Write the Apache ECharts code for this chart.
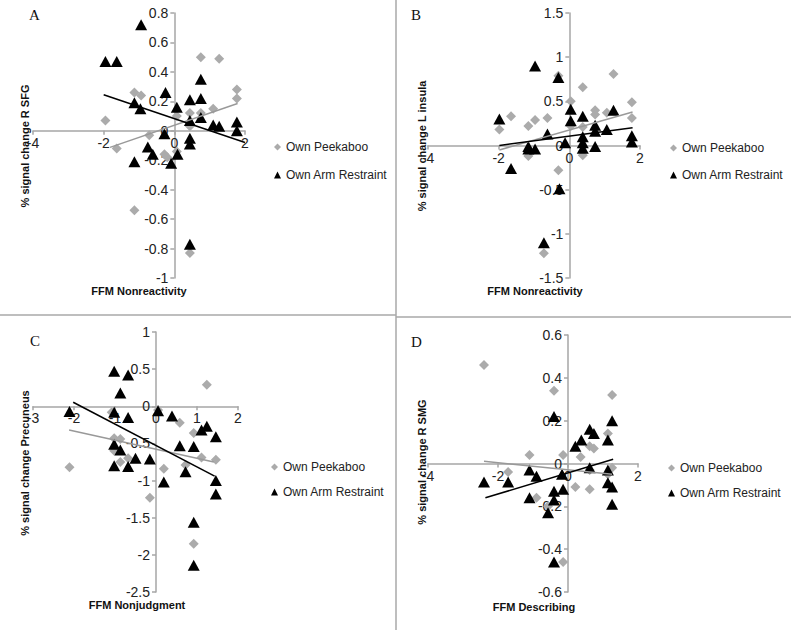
<!DOCTYPE html>
<html>
<head>
<meta charset="utf-8">
<script src="https://cdn.jsdelivr.net/npm/echarts@6/dist/echarts.min.js"></script>
<style>
html,body{margin:0;padding:0;background:#fff;}
#chart{width:791px;height:630px;}
</style>
</head>
<body>
<div id="chart"></div>
<script>
// ---------- DATA ----------
const seriesNames = ['Own Peekaboo', 'Own Arm Restraint'];

// Panel A: FFM Nonreactivity vs % signal change R SFG
const peekA = [[-1.95,0.07],[-1.63,-0.12],[-1.13,0.26],[-0.94,0.24],[-0.71,-0.03],[-0.28,-0.16],[-1.13,-0.54],[0.75,0.5],[1.27,0.49],[1.77,0.28],[1.77,0.22],[0.44,0.12],[0.75,0.12],[1.1,0.15],[0.07,0.1],[0.44,0.03],[0.44,-0.83],[-0.2,-0.18],[0.07,-0.14]];
const armA = [[-0.94,0.72],[-1.95,0.47],[-1.63,0.47],[-1.13,0.19],[-0.96,0.15],[-0.25,0.26],[-0.28,-0.02],[-0.75,-0.11],[-0.61,-0.16],[-1.13,-0.21],[-0.09,-0.22],[0.09,-0.16],[0.07,0.16],[0.44,0.21],[0.75,0.22],[0.75,0.35],[0.75,0.09],[0.44,0.07],[0.44,-0.05],[0.44,-0.09],[1.1,0.04],[1.27,0.03],[1.77,0.06],[1.77,0.0],[0.44,-0.77]];
const trendPeekA = [[-1.82,-0.113],[1.79,0.185]];
const trendArmA = [[-2.0,0.245],[2.0,-0.08]];

// Panel B: FFM Nonreactivity vs % signal change L insula
const peekB = [[-1.98,0.18],[-1.65,0.33],[-1.16,0.22],[-0.97,0.29],[-0.62,0.31],[-1.16,-0.12],[-0.31,0.79],[0.04,0.5],[0.38,0.66],[0.73,0.4],[0.73,0.35],[1.06,0.37],[1.25,0.81],[1.77,0.49],[1.77,0.31],[-0.31,-0.28],[-0.72,-1.22],[0.38,0.21],[0.38,-0.11],[0.04,0.22]];
const armB = [[-0.97,0.9],[-0.31,0.77],[-1.98,0.3],[-1.65,-0.26],[-1.16,-0.04],[-0.97,-0.04],[-0.62,0.13],[-0.12,0.03],[0.04,0.41],[0.04,0.28],[0.38,0.33],[0.38,0.1],[0.38,0.03],[0.38,-0.03],[0.73,0.23],[0.73,0.16],[0.73,-0.01],[1.06,0.18],[1.25,0.4],[1.77,0.11],[1.77,0.04],[-0.28,-0.49],[-0.72,-1.1],[-1.16,-0.01]];
const trendPeekB = [[-1.98,-0.05],[1.79,0.38]];
const trendArmB = [[-1.98,0.0],[1.79,0.2]];

// Panel C: FFM Nonjudgment vs % signal change Precuneus
const peekC = [[-2.11,-0.82],[-1.08,-0.08],[-1.02,-0.43],[-0.87,-0.44],[-0.87,-0.75],[-0.68,-0.7],[-1.02,-0.6],[-0.15,-1.23],[0.19,-0.84],[0.58,-0.22],[0.92,-0.36],[1.24,0.29],[1.11,-0.69],[1.46,-0.72],[0.72,-0.79],[0.92,-1.85],[0.05,-0.05]];
const armC = [[-1.02,0.47],[-0.68,0.42],[-0.87,0.18],[-2.11,-0.07],[-1.02,-0.08],[-0.68,-0.15],[0.05,-0.06],[0.39,-0.13],[-1.02,-0.51],[-0.87,-0.59],[-1.02,-0.8],[-0.68,-0.81],[-0.5,-0.7],[-0.15,-0.71],[0.58,-0.53],[0.92,-0.54],[1.11,-0.32],[1.24,-0.27],[1.46,-0.41],[0.72,-0.88],[0.19,-1.02],[1.46,-1.0],[1.46,-1.18],[0.92,-1.56],[0.92,-2.14]];
const trendPeekC = [[-2.12,-0.32],[1.41,-0.75]];
const trendArmC = [[-2.02,0.054],[1.43,-0.94]];

// Panel D: FFM Describing vs % signal change R SMG
const peekD = [[-2.4,0.46],[-0.4,0.34],[1.26,0.32],[-1.71,-0.04],[-1.1,0.04],[-0.9,-0.16],[-0.57,-0.2],[-0.14,0.04],[-0.14,-0.46],[0.21,-0.11],[0.36,0.03],[0.62,-0.12],[0.62,0.08],[0.74,0.07],[1.14,0.14],[1.26,-0.02],[0.62,-0.03],[1.14,-0.05]];
const armD = [[-2.4,-0.086],[-1.71,-0.086],[-1.1,-0.03],[-0.9,-0.06],[-1.1,-0.16],[-0.17,-0.05],[-0.4,-0.13],[-0.14,-0.12],[-0.4,-0.17],[-0.57,-0.23],[-0.4,-0.46],[-0.4,0.22],[0.21,0.08],[0.38,0.11],[0.62,0.16],[0.74,0.14],[0.62,-0.02],[1.14,-0.03],[1.14,-0.09],[1.26,-0.11],[1.14,0.11],[1.26,0.2],[1.26,-0.19]];
const trendPeekD = [[-2.4,0.01],[1.26,-0.05]];
const trendArmD = [[-2.36,-0.16],[1.29,0.02]];

// Axis ranges and titles
const panelLetters = ['A','B','C','D'];
const xTitles = ['FFM Nonreactivity','FFM Nonreactivity','FFM Nonjudgment','FFM Describing'];
const yTitles = ['% signal change R SFG','% signal change L insula','% signal change Precuneus','% signal change R SMG'];
const xMin = [-4,-4,-3,-4], xMax = [2,2,2,2], xStep = [2,2,1,2];
const yMin = [-1,-1.5,-2.5,-0.6], yMax = [0.8,1.5,1,0.6], yStep = [0.2,0.5,0.5,0.2];

// ---------- LAYOUT ----------
const peekData = [peekA, peekB, peekC, peekD];
const armData = [armA, armB, armC, armD];
const trendPeek = [trendPeekA, trendPeekB, trendPeekC, trendPeekD];
const trendArm = [trendArmA, trendArmB, trendArmC, trendArmD];

const grids = [
  {left:33, top:13, width:212, height:265},
  {left:428, top:13, width:212, height:265},
  {left:33, top:332, width:205, height:260},
  {left:428, top:335, width:210, height:257}
];
const letterPos = [[29,7],[411,7],[30,333],[411,334]];
const xTitlePos = [[139,291],[535,291],[137,605],[534,607]];
const yTitlePos = [[25,146],[422,146],[25,463],[422,462]];
const legendPos = [[269,135,14],[665,136,13],[266,455,11],[663,456,11]];

const GRAY = '#ababab';
const AXIS = '#a6a6a6';
const FONT = '"Liberation Sans", Arial, sans-serif';

// axes cross at the value 0 (Excel style): shift each axis from its grid edge to zero
function xAxisShift(i){ return -grids[i].height * (0 - yMin[i]) / (yMax[i] - yMin[i]); }
function yAxisShift(i){ return -grids[i].width * (0 - xMin[i]) / (xMax[i] - xMin[i]); }

const option = {
  animation:false,
  backgroundColor:'#fff',
  grid: grids.map(g => Object.assign({containLabel:false}, g)),
  xAxis: grids.map((g,i) => ({
    type:'value', gridIndex:i, min:xMin[i], max:xMax[i], interval:xStep[i],
    position:'bottom', offset:xAxisShift(i),
    splitLine:{show:false},
    axisLine:{show:true, onZero:false, lineStyle:{color:AXIS, width:1.5}},
    axisTick:{show:true, length:4, lineStyle:{color:AXIS, width:1.5}},
    axisLabel:{color:'#222', fontSize:14, fontFamily:FONT, margin:5, showMinLabel:true, showMaxLabel:true}
  })),
  yAxis: grids.map((g,i) => ({
    type:'value', gridIndex:i, min:yMin[i], max:yMax[i], interval:yStep[i],
    position:'left', offset:yAxisShift(i),
    splitLine:{show:false},
    axisLine:{show:true, onZero:false, lineStyle:{color:AXIS, width:1.5}},
    axisTick:{show:true, length:4, lineStyle:{color:AXIS, width:1.5}},
    axisLabel:{color:'#222', fontSize:14, fontFamily:FONT, margin:6, showMinLabel:true, showMaxLabel:true}
  })),
  legend: legendPos.map(p => ({
    orient:'vertical', left:p[0], top:p[1], itemGap:p[2],
    itemWidth:7, itemHeight:7, selectedMode:false,
    textStyle:{fontSize:12, fontFamily:FONT, color:'#222', lineHeight:14},
    data:[{name:seriesNames[0], icon:'diamond', itemStyle:{color:GRAY}},
          {name:seriesNames[1], icon:'triangle', itemStyle:{color:'#000'}}]
  })),
  series: [],
  graphic: []
};

for (let i=0;i<4;i++){
  option.series.push({
    type:'scatter', name:seriesNames[0], xAxisIndex:i, yAxisIndex:i,
    symbol:'diamond', symbolSize:10, itemStyle:{color:GRAY, opacity:1}, data:peekData[i], z:2
  });
  option.series.push({
    type:'scatter', name:seriesNames[1], xAxisIndex:i, yAxisIndex:i,
    symbol:'triangle', symbolSize:[12,11], itemStyle:{color:'#000', opacity:1}, data:armData[i], z:3
  });
  option.series.push({
    type:'line', name:'trend-peek-'+i, xAxisIndex:i, yAxisIndex:i, showSymbol:false, symbol:'none',
    lineStyle:{color:'#999', width:1.5}, data:trendPeek[i], z:4, silent:true
  });
  option.series.push({
    type:'line', name:'trend-arm-'+i, xAxisIndex:i, yAxisIndex:i, showSymbol:false, symbol:'none',
    lineStyle:{color:'#000', width:1.5}, data:trendArm[i], z:5, silent:true
  });
  option.graphic.push({
    type:'text', left:letterPos[i][0], top:letterPos[i][1],
    style:{text:panelLetters[i], font:'15px "Liberation Serif", "DejaVu Serif", serif', fill:'#111'}
  });
  option.graphic.push({
    type:'text', x:xTitlePos[i][0], y:xTitlePos[i][1],
    style:{text:xTitles[i], font:'bold 11px '+FONT, fill:'#111', textAlign:'center', textVerticalAlign:'middle'}
  });
  option.graphic.push({
    type:'text', x:yTitlePos[i][0], y:yTitlePos[i][1], rotation:Math.PI/2,
    style:{text:yTitles[i], font:'bold 11px '+FONT, fill:'#111', textAlign:'center', textVerticalAlign:'middle'}
  });
}
// panel dividers
option.graphic.push({type:'line', shape:{x1:396, y1:0, x2:396, y2:630}, style:{stroke:'#a8a8a8', lineWidth:1.5}});
option.graphic.push({type:'line', shape:{x1:0, y1:315, x2:396, y2:315}, style:{stroke:'#a8a8a8', lineWidth:1.5}});
option.graphic.push({type:'line', shape:{x1:396, y1:317, x2:791, y2:317}, style:{stroke:'#a8a8a8', lineWidth:1.5}});

const chart = echarts.init(document.getElementById('chart'), null, {renderer:'svg'});
chart.setOption(option);
</script>
</body>
</html>
